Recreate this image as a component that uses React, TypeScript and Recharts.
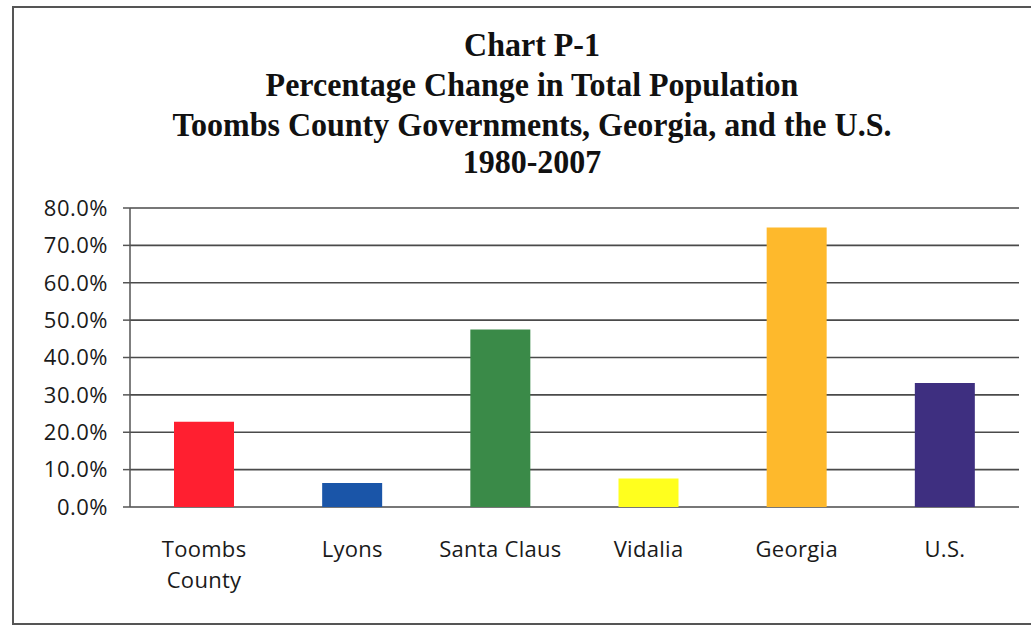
import React from "react";
import { BarChart, Bar, XAxis, YAxis, CartesianGrid, Cell } from "recharts";

const categories = ["Toombs\nCounty", "Lyons", "Santa Claus", "Vidalia", "Georgia", "U.S."];
const pctChange = [22.8, 6.4, 47.5, 7.6, 74.8, 33.2];
const barColors = ["#ff1f30", "#1a55a8", "#3a8a48", "#ffff1e", "#feb92c", "#3e2f80"];
const yTicks = [0, 10, 20, 30, 40, 50, 60, 70, 80];
const titleLines = [
  "Chart P-1",
  "Percentage Change in Total Population",
  "Toombs County Governments, Georgia, and the U.S.",
  "1980-2007",
];

const data = categories.map((name, i) => ({ name, value: pctChange[i] }));

const CategoryTick = (props: any) => {
  const { x, y, payload } = props;
  const lines = String(payload.value).split("\n");
  return (
    <text
      x={x}
      y={y}
      textAnchor="middle"
      fill="#1a1a1a"
      fontFamily="'Open Sans', sans-serif"
      fontSize={22}
      letterSpacing={0.3}
    >
      {lines.map((l, i) => (
        <tspan key={i} x={x} y={y + 50 + i * 31}>
          {l}
        </tspan>
      ))}
    </text>
  );
};

export default function App() {
  return (
    <div style={{ position: "absolute", left: 0, top: 0, width: 1031, height: 629, background: "#fff", overflow: "hidden" }}>
      {/* scanned frame */}
      <div
        style={{
          position: "absolute",
          left: 12,
          top: 6,
          width: 1040,
          height: 619,
          border: "2px solid #555",
          boxSizing: "border-box",
        }}
      />
      <div
        style={{
          position: "absolute",
          left: 132,
          width: 800,
          top: 24,
          textAlign: "center",
          whiteSpace: "nowrap",
          fontFamily: "'Liberation Serif', 'Times New Roman', serif",
          fontWeight: "bold",
          fontSize: 32,
          lineHeight: "38px",
          color: "#111",
          transform: "scaleY(1.08)",
          transformOrigin: "top center",
        }}
      >
        {titleLines.map((t, i) => (
          <div key={i} style={{ height: i === 2 ? 34 : 37 }}>{t}</div>
        ))}
      </div>
      <div style={{ position: "absolute", left: 0, top: 0 }}>
        <BarChart width={1031} height={629} data={data} margin={{ top: 208, right: 12, bottom: 62, left: 30 }}>
          <CartesianGrid vertical={false} stroke="#4a4a4a" strokeWidth={1.6} />
          <XAxis
            xAxisId="bounds"
            type="number"
            domain={[0, 6]}
            ticks={[0, 1, 2, 3, 4, 5, 6]}
            allowDataOverflow
            height={0}
            tick={false}
            tickSize={7}
            tickLine={{ stroke: "#555", strokeWidth: 1.5 }}
            axisLine={{ stroke: "#4a4a4a", strokeWidth: 1.6 }}
          />
          <XAxis
            xAxisId="cat"
            dataKey="name"
            height={60}
            interval={0}
            tickLine={false}
            axisLine={false}
            tickSize={0}
            tickMargin={0}
            tick={<CategoryTick />}
          />
          <YAxis
            width={100}
            domain={[0, 80]}
            ticks={yTicks}
            tickFormatter={(v: number) => v.toFixed(1) + "%"}
            tickSize={7}
            tickMargin={15}
            tickLine={{ stroke: "#555", strokeWidth: 1.5 }}
            axisLine={{ stroke: "#555", strokeWidth: 1.5 }}
            tick={{ fill: "#1a1a1a", fontFamily: "'Open Sans', sans-serif", fontSize: 22, letterSpacing: 0.5 }}
          />
          <Bar dataKey="value" xAxisId="cat" barSize={60} isAnimationActive={false}>
            {data.map((d, i) => (
              <Cell key={d.name} fill={barColors[i]} />
            ))}
          </Bar>
        </BarChart>
      </div>
    </div>
  );
}
